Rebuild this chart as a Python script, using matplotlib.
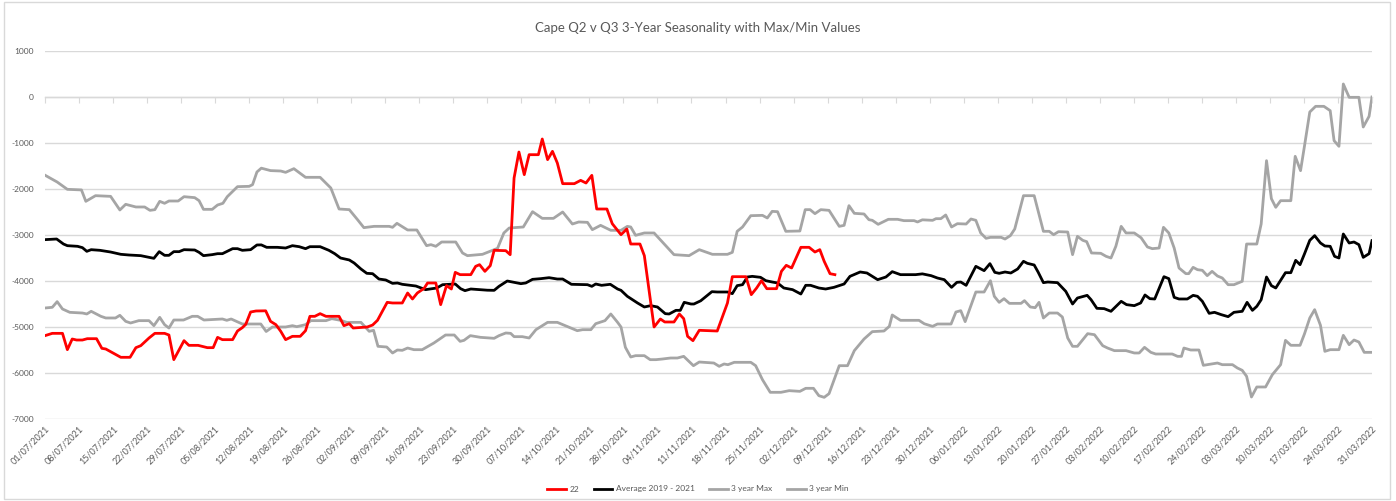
import numpy as np
import pandas as pd
import matplotlib
matplotlib.use("Agg")
import matplotlib.pyplot as plt
import matplotlib.dates as mdates
from matplotlib.patches import Rectangle
from matplotlib.ticker import FuncFormatter

plt.rcParams['font.family'] = ['Lato', 'DejaVu Sans']
plt.rcParams['axes.unicode_minus'] = False

start = pd.Timestamp('2021-07-01')
end = pd.Timestamp('2022-03-31')

# days since 01/07/2021 and values
max_days = [0, 2.5, 4.6, 7.5, 8.4, 10.4, 13.5, 15.4, 16.6, 18.7,
            20.5, 21.6, 22.6, 23.6, 24.6, 25.5, 27.4, 28.6, 30.8, 31.7,
            32.6, 34.4, 35.5, 36.6, 37.5, 39.6, 42.0, 42.7, 43.6, 44.5,
            46.4, 48.5, 49.5, 51.2, 53.6, 56.6, 58.8, 60.5, 62.6, 64.3,
            65.6, 67.7, 70.8, 71.5, 72.4, 74.6, 76.5, 78.5, 79.4, 80.4,
            81.6, 84.5, 85.9, 86.9, 90.0, 91.7, 93.1, 94.4, 95.5, 98.4,
            100.3, 102.3, 104.6, 106.5, 108.5, 109.8, 111.6, 112.6, 114.3, 116.4,
            118.5, 119.8, 120.5, 121.5, 123.3, 125.3, 127.2, 129.4, 132.5, 134.6,
            137.3, 140.4, 141.4, 142.4, 143.5, 145.2, 147.6, 148.6, 149.6, 150.7,
            152.4, 155.3, 156.4, 157.4, 158.4, 159.6, 161.3, 163.4, 164.4, 165.4,
            166.5, 168.5, 169.5, 170.2, 171.4, 173.5, 175.4, 176.7, 178.8, 179.5,
            180.5, 182.6, 183.3, 184.3, 185.3, 186.5, 187.7, 189.5, 190.5, 191.5,
            192.5, 193.6, 194.5, 196.7, 197.5, 198.6, 199.5, 201.3, 203.5, 205.4,
            206.6, 207.5, 208.5, 210.4, 211.4, 212.4, 213.5, 214.3, 215.3, 217.2,
            218.3, 219.3, 220.3, 221.4, 222.4, 224.1, 225.5, 226.8, 227.8, 229.2,
            230.1, 231.2, 232.3, 233.3, 234.7, 235.3, 236.2, 237.1, 238.1, 239.1,
            240.1, 241.2, 242.2, 243.4, 244.6, 246.3, 247.2, 249.3, 250.2, 251.3,
            252.3, 253.2, 254.2, 256.3, 257.2, 258.3, 259.1, 260.2, 261.4, 263.1,
            264.4, 265.2, 266.2, 267.1, 268.3, 270.3, 271.2, 272.4, 273]
max_vals = [-1700, -1848, -2007, -2020, -2268, -2145, -2160, -2456, -2333, -2391,
            -2391, -2464, -2449, -2268, -2311, -2261, -2261, -2167, -2188, -2254,
            -2442, -2442, -2348, -2311, -2167, -1949, -1942, -1906, -1630, -1547,
            -1600, -1609, -1638, -1558, -1746, -1746, -1978, -2435, -2449, -2667,
            -2840, -2812, -2812, -2833, -2746, -2891, -2891, -3232, -3210, -3246,
            -3152, -3152, -3391, -3449, -3420, -3350, -3290, -2956, -2848, -2826,
            -2493, -2638, -2638, -2500, -2761, -2717, -2725, -2884, -2790, -2898,
            -2898, -2812, -2826, -3007, -2956, -2956, -3174, -3427, -3449, -3319,
            -3420, -3420, -3377, -2920, -2826, -2580, -2573, -2630, -2486, -2493,
            -2920, -2913, -2449, -2449, -2536, -2449, -2464, -2812, -2790, -2362,
            -2529, -2543, -2667, -2681, -2768, -2659, -2659, -2688, -2688, -2717,
            -2670, -2681, -2645, -2645, -2565, -2826, -2754, -2761, -2652, -2681,
            -2956, -3072, -3051, -3051, -3087, -3014, -2870, -2145, -2145, -2920,
            -2920, -2993, -2928, -2935, -3427, -3029, -3116, -3145, -3391, -3398,
            -3464, -3500, -3246, -2812, -2956, -2956, -3060, -3260, -3297, -3283,
            -2833, -2956, -3283, -3717, -3840, -3840, -3703, -3754, -3768, -3884,
            -3790, -3891, -3935, -4080, -4080, -4007, -3196, -3196, -2761, -1384,
            -2210, -2398, -2254, -2254, -1290, -1601, -1072, -326, -203, -203,
            -297, -949, -1072, 283, -7, -7, -652, -420, 0]

min_days = [0, 1.5, 2.5, 3.6, 5.1, 7.7, 8.6, 9.5, 11.5, 12.5,
            14.5, 15.4, 16.6, 17.6, 19.3, 21.4, 22.4, 23.6, 24.6, 25.5,
            26.5, 28.5, 30.3, 31.4, 32.7, 36.5, 37.4, 38.3, 40.6, 44.4,
            45.5, 46.8, 49.5, 50.9, 51.8, 53.6, 54.7, 57.8, 59.0, 60.8,
            62.1, 65.0, 66.7, 67.6, 68.5, 70.3, 71.5, 72.5, 73.5, 74.6,
            75.9, 77.6, 80.0, 82.4, 84.2, 85.4, 86.2, 87.5, 89.6, 92.4,
            93.4, 94.8, 95.8, 96.5, 98.2, 99.6, 101.0, 103.4, 105.4, 109.5,
            110.6, 112.3, 113.3, 115.2, 116.4, 117.8, 118.5, 119.4, 120.5, 121.5,
            123.3, 124.5, 125.7, 127.0, 128.7, 130.1, 131.4, 133.4, 134.6, 137.6,
            138.7, 139.7, 140.5, 141.8, 145.2, 146.2, 147.6, 149.2, 151.4, 153.1,
            155.3, 156.5, 158.1, 159.2, 160.3, 161.3, 163.4, 165.1, 166.5, 168.5,
            170.2, 172.6, 173.7, 174.3, 176.0, 179.8, 180.9, 182.6, 183.6, 186.4,
            187.4, 188.4, 189.3, 191.5, 193.2, 194.5, 195.3, 196.3, 197.3, 198.4,
            200.8, 201.5, 202.7, 203.7, 204.5, 205.4, 206.6, 208.3, 209.3, 210.4,
            211.4, 212.4, 214.5, 215.9, 217.6, 218.6, 220.0, 222.4, 224.1, 225.1,
            226.2, 227.5, 228.5, 231.9, 233.0, 233.8, 234.3, 235.7, 237.4, 238.3,
            241.2, 242.2, 244.3, 245.3, 246.3, 247.2, 248.2, 249.3, 251.1, 252.5,
            254.2, 255.2, 256.3, 258.2, 259.1, 260.2, 261.2, 262.4, 263.3, 264.4,
            266.2, 267.1, 268.3, 269.3, 270.3, 271.4, 273]
min_vals = [-4587, -4572, -4449, -4609, -4681, -4696, -4717, -4659, -4768, -4804,
            -4804, -4746, -4877, -4913, -4862, -4862, -4971, -4790, -4949, -5022,
            -4848, -4848, -4768, -4768, -4848, -4826, -4855, -4826, -4935, -4935,
            -5098, -5000, -5000, -4971, -4993, -4949, -4862, -4862, -4819, -4855,
            -4899, -4899, -5094, -5072, -5420, -5435, -5565, -5500, -5507, -5457,
            -5493, -5493, -5348, -5174, -5174, -5312, -5290, -5188, -5225, -5246,
            -5188, -5130, -5138, -5210, -5210, -5239, -5058, -4899, -4899, -5080,
            -5058, -5058, -4928, -4862, -4717, -4899, -5000, -5442, -5652, -5623,
            -5623, -5710, -5710, -5696, -5674, -5674, -5638, -5841, -5761, -5783,
            -5855, -5804, -5819, -5768, -5768, -5841, -6145, -6420, -6420, -6384,
            -6399, -6333, -6333, -6493, -6529, -6449, -5841, -5841, -5514, -5261,
            -5101, -5087, -4986, -4739, -4855, -4855, -4930, -4986, -4935, -4935,
            -4674, -4645, -4884, -4239, -4239, -3993, -4333, -4464, -4384, -4486,
            -4486, -4427, -4565, -4580, -4464, -4804, -4696, -4696, -4783, -5239,
            -5420, -5420, -5145, -5167, -5406, -5457, -5514, -5514, -5565, -5565,
            -5442, -5551, -5587, -5587, -5638, -5638, -5457, -5500, -5500, -5833,
            -5783, -5819, -5819, -5891, -5942, -6072, -6522, -6304, -6304, -6036,
            -5819, -5290, -5398, -5398, -5152, -4804, -4623, -4964, -5529, -5493,
            -5493, -5181, -5384, -5283, -5326, -5551, -5551]

avg_days = [0, 2.4, 3.8, 4.6, 6.7, 7.7, 8.6, 9.5, 11.3, 13.5,
            15.6, 17.3, 19.7, 22.4, 23.5, 24.6, 25.5, 26.5, 27.6, 28.6,
            30.8, 31.7, 32.6, 34.4, 35.5, 36.5, 38.6, 39.6, 40.6, 42.3,
            43.6, 44.5, 45.6, 47.8, 49.5, 50.9, 52.3, 53.6, 54.5, 56.6,
            58.4, 59.6, 60.8, 62.6, 63.6, 65.0, 66.2, 67.4, 68.7, 70.1,
            71.5, 72.5, 73.5, 76.3, 78.3, 80.6, 81.8, 84.4, 85.5, 86.4,
            87.6, 91.0, 92.4, 93.4, 95.1, 96.2, 97.9, 98.9, 100.3, 102.0,
            103.7, 105.4, 106.5, 108.3, 111.6, 112.5, 113.3, 114.5, 116.3, 117.8,
            118.5, 119.8, 121.9, 123.3, 124.6, 126.0, 127.6, 128.4, 129.8, 130.7,
            131.5, 132.9, 133.5, 134.9, 137.2, 138.3, 140.4, 141.4, 142.4, 143.5,
            144.5, 145.5, 147.2, 148.3, 149.6, 150.7, 152.0, 153.8, 155.5, 156.5,
            157.5, 159.2, 160.6, 162.3, 164.4, 165.6, 167.7, 169.1, 171.3, 173.0,
            174.3, 176.0, 179.1, 180.5, 182.3, 183.6, 185.0, 186.5, 187.6, 188.4,
            189.5, 191.5, 193.2, 194.4, 195.4, 196.3, 197.5, 198.7, 200.1, 201.3,
            202.1, 203.5, 204.3, 205.4, 206.3, 208.3, 210.0, 211.4, 212.4, 214.4,
            215.2, 216.4, 217.9, 219.3, 221.4, 222.5, 224.1, 225.4, 226.3, 227.3,
            228.3, 230.2, 231.2, 232.3, 233.3, 235.0, 236.2, 237.1, 238.1, 239.5,
            240.6, 242.0, 243.4, 244.6, 246.3, 247.3, 248.4, 249.3, 250.2, 251.3,
            252.3, 253.2, 254.2, 255.2, 256.3, 257.3, 258.2, 259.1, 260.2, 261.2,
            262.4, 263.3, 264.4, 265.3, 266.2, 267.1, 268.3, 269.3, 270.3, 271.2,
            272.4, 273]
avg_vals = [-3101, -3087, -3196, -3232, -3246, -3275, -3355, -3319, -3333, -3370,
            -3420, -3435, -3449, -3507, -3362, -3442, -3442, -3362, -3362, -3319,
            -3326, -3377, -3449, -3427, -3406, -3406, -3297, -3297, -3333, -3319,
            -3217, -3215, -3268, -3268, -3283, -3232, -3254, -3297, -3254, -3254,
            -3333, -3406, -3500, -3543, -3609, -3739, -3833, -3841, -3957, -3978,
            -4051, -4043, -4072, -4109, -4188, -4152, -4080, -4065, -4167, -4210,
            -4174, -4200, -4203, -4116, -4000, -4022, -4058, -4043, -3964, -3949,
            -3928, -3957, -3957, -4072, -4080, -4116, -4065, -4094, -4072, -4174,
            -4203, -4333, -4478, -4565, -4536, -4565, -4710, -4717, -4638, -4638,
            -4464, -4500, -4500, -4430, -4232, -4239, -4239, -4275, -4101, -4080,
            -3913, -3899, -3920, -3993, -4022, -4043, -4152, -4188, -4283, -4094,
            -4094, -4152, -4174, -4138, -4065, -3899, -3804, -3826, -3971, -3913,
            -3797, -3862, -3862, -3845, -3884, -3935, -3971, -4138, -4029, -4022,
            -4094, -3681, -3775, -3623, -3812, -3833, -3804, -3826, -3739, -3572,
            -3616, -3652, -3804, -4036, -4022, -4036, -4225, -4500, -4370, -4312,
            -4406, -4594, -4601, -4659, -4442, -4514, -4536, -4478, -4304, -4384,
            -4391, -3906, -3949, -4355, -4391, -4391, -4312, -4333, -4442, -4703,
            -4681, -4732, -4775, -4681, -4659, -4464, -4638, -4551, -4406, -3913,
            -4101, -4152, -3986, -3819, -3819, -3551, -3645, -3413, -3116, -3014,
            -3174, -3239, -3246, -3464, -3500, -2978, -3174, -3152, -3210, -3486,
            -3406, -3123]

red_days = [0, 1.5, 3.6, 4.6, 5.6, 6.5, 7.7, 8.7, 10.6, 11.7,
            12.5, 15.6, 17.5, 18.7, 19.7, 21.4, 22.6, 24.6, 25.5, 26.5,
            28.6, 29.6, 31.5, 33.4, 34.6, 35.5, 36.5, 38.6, 39.6, 40.6,
            41.3, 42.3, 43.4, 45.4, 46.4, 47.5, 48.5, 49.5, 50.9, 52.5,
            53.6, 54.5, 55.5, 56.6, 57.8, 60.5, 61.5, 62.6, 63.4, 66.3,
            67.4, 68.4, 69.4, 70.4, 71.5, 73.5, 74.6, 75.6, 76.6, 78.0,
            78.7, 80.4, 81.4, 82.6, 83.6, 84.4, 85.4, 87.6, 88.6, 89.4,
            90.5, 91.6, 92.4, 94.8, 95.7, 96.5, 97.5, 98.6, 99.6, 101.5,
            102.3, 103.4, 104.4, 105.4, 106.5, 108.9, 110.2, 111.3, 112.5, 113.5,
            115.6, 116.7, 118.5, 119.7, 120.5, 122.4, 123.3, 125.3, 126.6, 127.5,
            129.4, 130.5, 131.4, 132.2, 133.3, 134.6, 138.3, 139.4, 140.4, 141.4,
            144.2, 145.3, 146.4, 147.4, 148.5, 150.5, 151.5, 152.5, 153.6, 155.5,
            157.2, 158.4, 159.4, 160.3, 161.5, 162.5]
red_vals = [-5188, -5138, -5138, -5493, -5261, -5283, -5283, -5254, -5254, -5464,
            -5478, -5659, -5659, -5449, -5406, -5239, -5138, -5138, -5174, -5710,
            -5297, -5399, -5399, -5449, -5449, -5225, -5275, -5275, -5087, -5014,
            -4942, -4674, -4652, -4648, -4877, -4949, -5094, -5275, -5203, -5203,
            -5080, -4768, -4768, -4710, -4768, -4768, -4971, -4928, -5022, -5000,
            -4957, -4855, -4659, -4464, -4478, -4478, -4261, -4391, -4261, -4159,
            -4043, -4043, -4514, -4101, -4174, -3812, -3862, -3862, -3681, -3645,
            -3790, -3667, -3333, -3341, -3428, -1761, -1196, -1688, -1254, -1254,
            -913, -1362, -1181, -1435, -1884, -1884, -1812, -1870, -1703, -2435,
            -2435, -2754, -2993, -2870, -3196, -3196, -3449, -5000, -4826, -4891,
            -4891, -4717, -4819, -5203, -5297, -5072, -5087, -4768, -4478, -3906,
            -3906, -4297, -4152, -3993, -4167, -4167, -3790, -3659, -3717, -3268,
            -3268, -3370, -3319, -3572, -3841, -3862]

y_ticks = list(range(-7000, 1001, 1000))
tick_dates = pd.date_range(start, end, freq='7D')


def to_x(days):
    return mdates.date2num(start) + np.asarray(days, dtype=float)


fig = plt.figure(figsize=(13.96, 5.01), dpi=100)
ax = fig.add_axes([45 / 1396, 82 / 501, 1327 / 1396, 368 / 501])

gray = '#a5a5a5'
ax.plot(to_x(red_days), red_vals, color='#ff0000', lw=2.0, label='22', zorder=5)
ax.plot(to_x(avg_days), avg_vals, color='#000000', lw=2.0, label='Average 2019 - 2021', zorder=4)
ax.plot(to_x(max_days), max_vals, color=gray, lw=2.0, label='3 year Max', zorder=3)
ax.plot(to_x(min_days), min_vals, color=gray, lw=2.0, label='3 year Min', zorder=3)

ax.set_xlim(mdates.date2num(start), mdates.date2num(end))
ax.set_ylim(-7000, 1000)
ax.set_yticks(y_ticks)
ax.yaxis.set_major_formatter(FuncFormatter(lambda v, p: f'{int(v)}'))
ax.set_xticks(mdates.date2num(tick_dates))
ax.xaxis.set_major_formatter(mdates.DateFormatter('%d/%m/%Y'))

ax.grid(axis='y', color='#d9d9d9', lw=1.0)
ax.set_axisbelow(True)
for s in ['left', 'right', 'bottom']:
    ax.spines[s].set_visible(False)
ax.spines['top'].set_position(('data', 0))
ax.spines['top'].set_color('#d9d9d9')
ax.spines['top'].set_linewidth(1.0)

ax.tick_params(axis='y', length=0, labelsize=6, labelcolor='#595959', pad=8)
ax.tick_params(axis='x', bottom=False, top=True, labeltop=False, labelbottom=True,
               direction='in', length=4, color='#d9d9d9', labelsize=6.5,
               labelcolor='#595959', pad=4)
for lab in ax.get_xticklabels():
    lab.set_rotation(45)
    lab.set_ha('right')
    lab.set_rotation_mode('anchor')

fig.text(0.5, 1 - 28 / 501, 'Cape Q2 v Q3 3-Year Seasonality with Max/Min Values',
         ha='center', va='center', fontsize=9.5, color='#595959')

fig.legend(loc='center', bbox_to_anchor=(0.5, 12 / 501), ncol=4, frameon=False,
           fontsize=6, labelcolor='#595959', handlelength=2.2, handletextpad=0.4,
           columnspacing=1.8)

fig.patches.append(Rectangle((4 / 1396, 2 / 501), 1386 / 1396, 497 / 501,
                             transform=fig.transFigure, fill=False,
                             edgecolor='#d9d9d9', lw=1.0))

fig.savefig('out.png', dpi=100)
